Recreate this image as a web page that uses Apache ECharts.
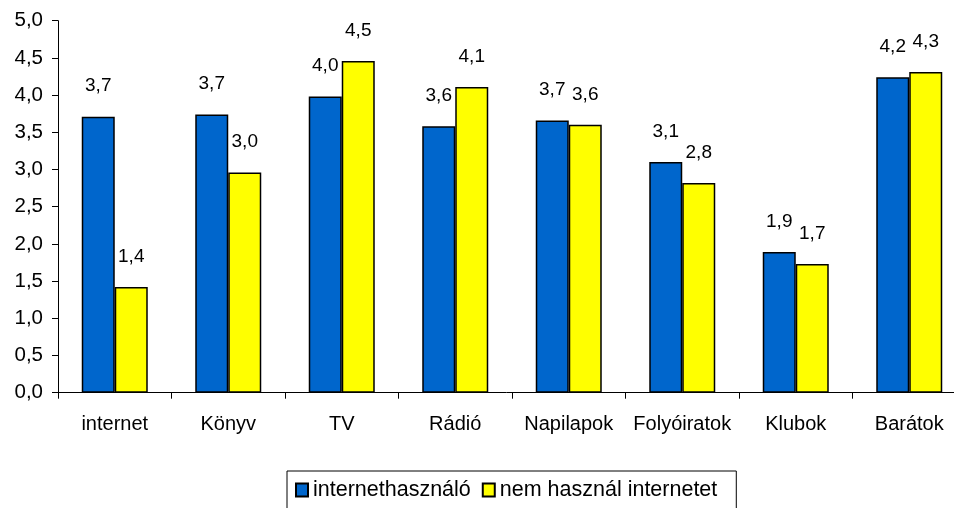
<!DOCTYPE html>
<html>
<head>
<meta charset="utf-8">
<script src="https://cdn.jsdelivr.net/npm/echarts@6/dist/echarts.min.js"></script>
<style>
  html, body { margin: 0; padding: 0; background: #fff; }
  #chart { width: 954px; height: 508px; }
</style>
</head>
<body>
<div id="chart"></div>
<script>
const categories = ['internet', 'Könyv', 'TV', 'Rádió', 'Napilapok', 'Folyóiratok', 'Klubok', 'Barátok']
const seriesNames = ['internethasználó', 'nem használ internetet']
const usersValues = [3.71, 3.74, 3.98, 3.58, 3.66, 3.10, 1.89, 4.24]
const nonUsersValues = [1.42, 2.96, 4.46, 4.11, 3.60, 2.82, 1.73, 4.31]
const yTicks = [0, 0.5, 1, 1.5, 2, 2.5, 3, 3.5, 4, 4.5, 5]

const comma = v => v.toFixed(1).replace('.', ',')

const chart = echarts.init(document.getElementById('chart'))

const labelStyle = {
  show: true,
  position: 'top',
  distance: 21,
  fontSize: 19,
  color: '#000',
  formatter: p => comma(p.value)
}

const option = {
  animation: false,
  textStyle: { fontFamily: 'Arial, "Liberation Sans", sans-serif' },
  // plot area runs a little past the right edge, as in the original
  grid: { left: 58, top: 20.7, right: -12, bottom: 115.3, outerBoundsMode: 'none' },
  legend: {
    data: seriesNames,
    icon: 'rect',
    left: 287,
    top: 471,
    padding: [8, 19, 10, 8],
    borderColor: '#000',
    borderWidth: 1,
    itemWidth: 12,
    itemHeight: 13,
    itemGap: 11,
    textStyle: { fontSize: 21.5, color: '#000' }
  },
  xAxis: {
    type: 'category',
    data: categories,
    axisLine: { lineStyle: { color: '#000', width: 1 } },
    axisTick: { show: true, length: 6, lineStyle: { color: '#000' } },
    axisLabel: { interval: 0, fontSize: 20, color: '#000', margin: 22 }
  },
  yAxis: {
    type: 'value',
    min: yTicks[0],
    max: yTicks[yTicks.length - 1],
    interval: 0.5,
    axisLine: { show: true, lineStyle: { color: '#000', width: 1 } },
    axisTick: { show: true, length: 6, lineStyle: { color: '#000' } },
    splitLine: { show: false },
    axisLabel: { fontSize: 20.5, color: '#000', margin: 15, formatter: v => comma(v) }
  },
  series: [
    {
      name: seriesNames[0],
      type: 'bar',
      data: usersValues,
      barWidth: 33,
      barGap: '0%',
      itemStyle: { color: '#0066CC', borderColor: '#000', borderWidth: 1.5 },
      label: labelStyle
    },
    {
      name: seriesNames[1],
      type: 'bar',
      data: nonUsersValues,
      barWidth: 33,
      barGap: '0%',
      itemStyle: { color: '#FFFF00', borderColor: '#000', borderWidth: 1.5 },
      label: labelStyle
    }
  ]
}

chart.setOption(option)
</script>
</body>
</html>
